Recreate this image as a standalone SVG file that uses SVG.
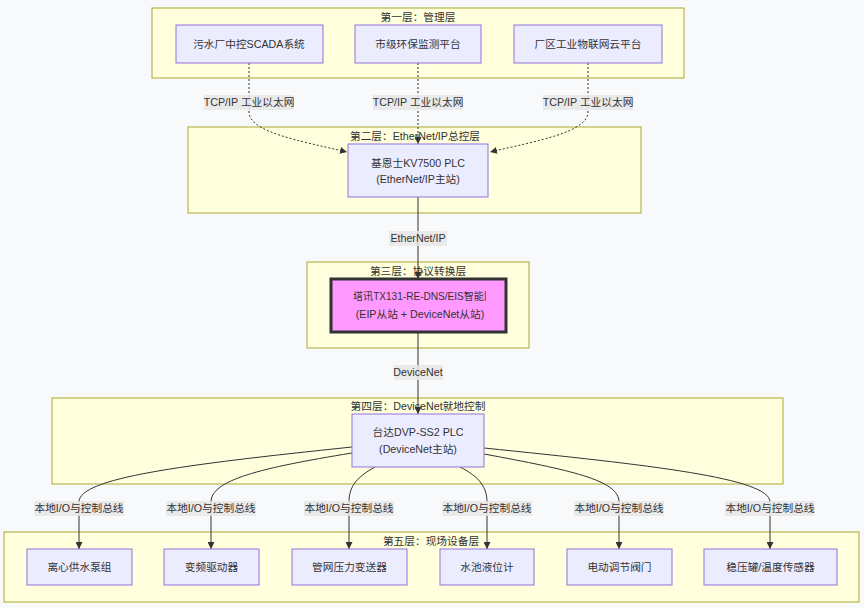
<svg xmlns="http://www.w3.org/2000/svg" width="864" height="608" viewBox="0 0 864 608">
<defs>
<style>
text{font-family:"Liberation Sans","Noto Sans CJK SC",sans-serif;font-size:10.7px;fill:#333;text-anchor:middle}
.layer{fill:#ffffde;stroke:#aaaa33;stroke-width:1}
.node{fill:#ececff;stroke:#9370db;stroke-width:1}
.edge{fill:none;stroke:#333;stroke-width:1}
.dot{stroke-dasharray:2,2}
.lbl{fill:#e8e8e8;opacity:0.85}
</style>
<marker id="arr" viewBox="0 0 10 10" refX="10" refY="5" markerWidth="7" markerHeight="7" markerUnits="userSpaceOnUse" orient="auto">
<path d="M0,0 L10,5 L0,10 z" fill="#333"/>
</marker>
<clipPath id="clipTX"><rect x="340" y="280" width="146" height="50"/></clipPath>
</defs>
<rect width="864" height="608" fill="#f8f9fb"/>

<g id="layers">
<g id="layer1"><rect class="layer" x="152" y="8" width="532" height="70"/><text x="418" y="21">第一层：管理层</text></g>
<g id="layer2"><rect class="layer" x="188" y="127" width="453" height="86"/><text x="415" y="140">第二层：EtherNet/IP总控层</text></g>
<g id="layer3"><rect class="layer" x="307" y="262" width="222" height="86"/><text x="418" y="275">第三层：协议转换层</text></g>
<g id="layer4"><rect class="layer" x="52" y="398" width="731" height="86"/><text x="418" y="410">第四层：DeviceNet就地控制</text></g>
<g id="layer5"><rect class="layer" x="4" y="532" width="855" height="70"/><text x="431" y="545">第五层：现场设备层</text></g>
</g>

<g id="connectors">
<path class="edge dot" d="M249,63 L249,112 C249,132 300,141 347,152" marker-end="url(#arr)"/>
<path class="edge dot" d="M418,63 L418,144" marker-end="url(#arr)"/>
<path class="edge dot" d="M588,63 L588,112 C588,132 537,141 490,152" marker-end="url(#arr)"/>
<path class="edge" d="M418,197 L418,279" marker-end="url(#arr)"/>
<path class="edge" d="M418,333 L418,414" marker-end="url(#arr)"/>
<path class="edge" d="M352,447 C180,465 79,478 79,502 L79,549" marker-end="url(#arr)"/>
<path class="edge" d="M352,453 C260,468 211,480 211,502 L211,549" marker-end="url(#arr)"/>
<path class="edge" d="M375,467 C355,478 349,488 349,502 L349,549" marker-end="url(#arr)"/>
<path class="edge" d="M460,467 C480,477 487,488 487,502 L487,549" marker-end="url(#arr)"/>
<path class="edge" d="M484,454 C570,470 619,480 619,502 L619,549" marker-end="url(#arr)"/>
<path class="edge" d="M484,448 C650,465 770,478 770,502 L770,549" marker-end="url(#arr)"/>
<g id="edge-labels">
<rect class="lbl" x="204" y="95" width="90" height="15"/><text x="249" y="106">TCP/IP 工业以太网</text>
<rect class="lbl" x="373" y="95" width="90" height="15"/><text x="418" y="106">TCP/IP 工业以太网</text>
<rect class="lbl" x="543" y="95" width="90" height="15"/><text x="588" y="106">TCP/IP 工业以太网</text>
<rect class="lbl" x="389" y="231" width="58" height="15"/><text x="418" y="242">EtherNet/IP</text>
<rect class="lbl" x="394" y="365" width="49" height="15"/><text x="418" y="376">DeviceNet</text>
<rect class="lbl" x="34" y="501" width="90" height="15"/><text x="79" y="512">本地I/O与控制总线</text>
<rect class="lbl" x="166" y="501" width="90" height="15"/><text x="211" y="512">本地I/O与控制总线</text>
<rect class="lbl" x="304" y="501" width="90" height="15"/><text x="349" y="512">本地I/O与控制总线</text>
<rect class="lbl" x="442" y="501" width="90" height="15"/><text x="487" y="512">本地I/O与控制总线</text>
<rect class="lbl" x="574" y="501" width="90" height="15"/><text x="619" y="512">本地I/O与控制总线</text>
<rect class="lbl" x="725" y="501" width="90" height="15"/><text x="770" y="512">本地I/O与控制总线</text>
</g>
</g>

<g id="n-scada"><rect class="node" x="176" y="25" width="147" height="38"/><text x="249" y="47.5">污水厂中控SCADA系统</text></g>
<g id="n-city"><rect class="node" x="355" y="25" width="126" height="38"/><text x="418" y="47.5">市级环保监测平台</text></g>
<g id="n-cloud"><rect class="node" x="514" y="25" width="148" height="38"/><text x="588" y="47.5">厂区工业物联网云平台</text></g>

<g id="n-kv"><rect class="node" x="348" y="144" width="140" height="53"/><text x="418" y="167">基恩士KV7500 PLC</text><text x="418" y="183">(EtherNet/IP主站)</text></g>

<g id="n-tx"><rect x="331" y="279" width="175" height="53" fill="#ff99ff" stroke="#333" stroke-width="3"/><text x="353" y="300" style="text-anchor:start" textLength="141" lengthAdjust="spacingAndGlyphs" clip-path="url(#clipTX)">塔讯TX131-RE-DNS/EIS智能网</text><text x="420" y="318">(EIP从站 + DeviceNet从站)</text></g>

<g id="n-dvp"><rect class="node" x="352" y="414" width="132" height="53"/><text x="418" y="436">台达DVP-SS2 PLC</text><text x="418" y="453">(DeviceNet主站)</text></g>

<g id="n-pump"><rect class="node" x="27" y="549" width="105" height="36"/><text x="79.5" y="571">离心供水泵组</text></g>
<g id="n-vfd"><rect class="node" x="164" y="549" width="95" height="36"/><text x="211.5" y="571">变频驱动器</text></g>
<g id="n-press"><rect class="node" x="292" y="549" width="115" height="36"/><text x="349.5" y="571">管网压力变送器</text></g>
<g id="n-level"><rect class="node" x="440" y="549" width="94" height="36"/><text x="487" y="571">水池液位计</text></g>
<g id="n-valve"><rect class="node" x="567" y="549" width="105" height="36"/><text x="619.5" y="571">电动调节阀门</text></g>
<g id="n-tank"><rect class="node" x="704" y="549" width="133" height="36"/><text x="770.5" y="571">稳压罐/温度传感器</text></g>
</svg>
